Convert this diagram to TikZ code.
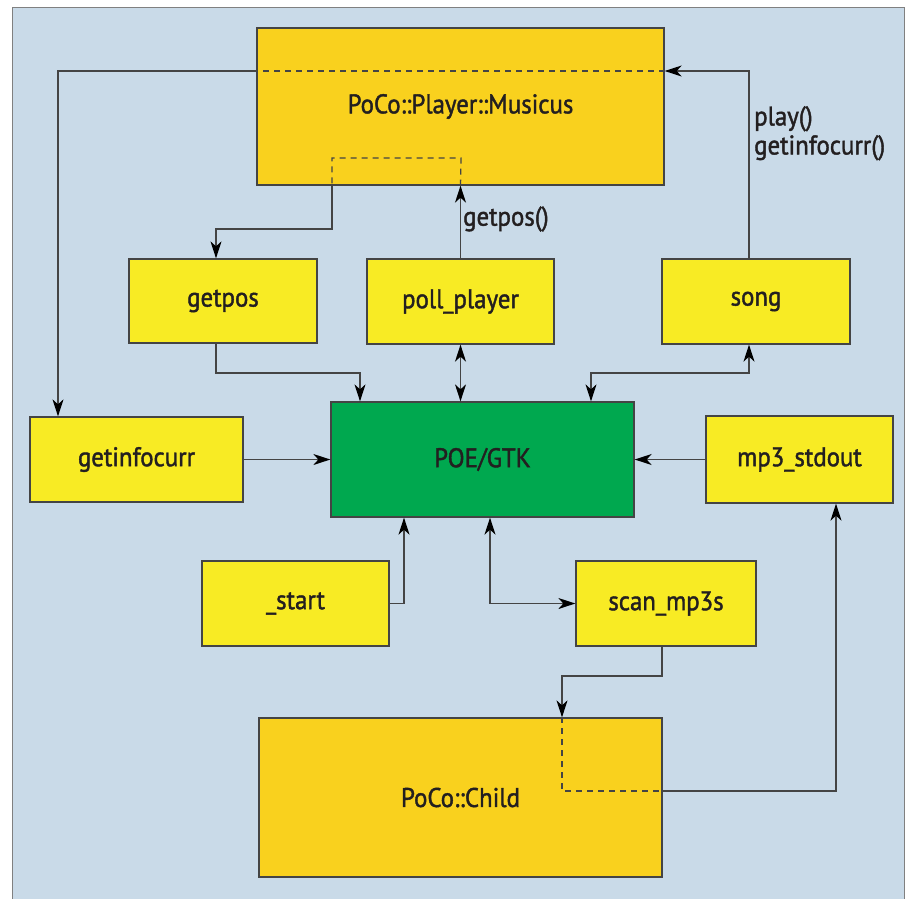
\documentclass[tikz,border=0pt]{standalone}
\usepackage{fontspec}
\setmainfont{PT Sans}
\newfontfamily\diagfont{PT Sans}[FakeStretch=0.92,FakeBold=1.5]
\usetikzlibrary{arrows.meta,calc}
\definecolor{bgblue}{HTML}{C9DAE8}
\definecolor{orangebox}{HTML}{F9D11E}
\definecolor{yellowbox}{HTML}{F8EB24}
\definecolor{greenbox}{HTML}{00A84F}
\definecolor{linegray}{HTML}{444444}
\definecolor{textdark}{HTML}{231F20}
\tikzset{
  box/.style={draw=linegray, line width=1.3pt, inner sep=0pt, text=textdark,
    font=\diagfont\fontsize{27}{30}\selectfont},
  ybox/.style={box, fill=yellowbox},
  obox/.style={box, fill=orangebox},
  gbox/.style={box, fill=greenbox},
  conn/.style={draw=linegray, line width=1.3pt,
    -{Stealth[length=17pt,width=11pt,inset=5pt,black]}},
  biconn/.style={draw=linegray, line width=1.3pt,
    {Stealth[length=17pt,width=11pt,inset=5pt,black]}-{Stealth[length=17pt,width=11pt,inset=5pt,black]}},
  dashline/.style={draw=linegray, line width=1.3pt, dash pattern=on 6pt off 5pt},
  lbl/.style={text=textdark, font=\diagfont\fontsize{27}{29}\selectfont, inner sep=0pt, align=left}
}
\begin{document}
\begin{tikzpicture}[x=1pt,y=-1pt]
\useasboundingbox (0,0) rectangle (907,898);
\fill[white] (0,0) rectangle (907,898);
\fill[bgblue] (12,7) rectangle (904,905);
\draw[gray, line width=1pt] (12,905) -- (12,7) -- (904,7) -- (904,905);

% nodes
\node[obox, minimum width=407pt, minimum height=157pt] (mus) at (460.5,106.5) {PoCo::Player::Musicus};
\node[ybox, minimum width=188pt, minimum height=84pt] (getpos) at (223,301) {getpos};
\node[ybox, minimum width=187pt, minimum height=85pt] (poll) at (460.5,301.5) {poll\_player};
\node[ybox, minimum width=188pt, minimum height=85pt] (song) at (756,301.5) {song};
\node[ybox, minimum width=213pt, minimum height=85pt] (gic) at (136.5,459.5) {getinfocurr};
\node[gbox, minimum width=303pt, minimum height=115pt] (poe) at (482.5,459.5) {POE/GTK};
\node[ybox, minimum width=187pt, minimum height=87pt] (mp3) at (799.5,459.5) {mp3\_stdout};
\node[ybox, minimum width=187pt, minimum height=85pt] (start) at (295.5,603.5) {\_start};
\node[ybox, minimum width=180pt, minimum height=85pt] (scan) at (666,603.5) {scan\_mp3s};
\node[obox, minimum width=403pt, minimum height=159pt] (child) at (460.5,797.5) {PoCo::Child};

% helper coordinates
\coordinate (songtop) at ($(song.north)+(-7,0)$);
\coordinate (musE) at (mus.east |- 0,71);
\coordinate (musW) at (mus.west |- 0,71);
\coordinate (gictop) at (58,0 |- gic.north);

% song -> Musicus -> getinfocurr
\draw[conn] (songtop) |- (musE);
\draw[dashline] (musE) -- (musW);
\draw[conn] (musW) -| (gictop);

% poll_player -> Musicus -> getpos
\coordinate (pollN) at (poll.north);
\coordinate (musS1) at (poll.north |- mus.south);
\coordinate (musS2) at (332,0 |- mus.south);
\draw[conn] (pollN) -- (musS1);
\draw[dashline] (musS1) -- (461,158) -- (332,158) -- (musS2);
\coordinate (getposN) at (216,0 |- getpos.north);
\draw[conn] (musS2) |- (332,229) -| (getposN);
\node[lbl, anchor=west] (lgetpos) at (463,219) {getpos()};
\node[lbl, anchor=north west] (lplay) at (754,106) {play()\\getinfocurr()};

% getpos -> POE
\coordinate (getposS) at (216,0 |- getpos.south);
\coordinate (poeN1) at (360,0 |- poe.north);
\draw[conn] (getposS) |- (poeN1 |- 0,373) -- (poeN1);

% poll <-> POE
\draw[biconn] (poll.south) -- (poll.south |- poe.north);

% song <-> POE
\coordinate (songS) at ($(song.south)+(-7,0)$);
\coordinate (poeN2) at (591,0 |- poe.north);
\draw[biconn] (poeN2) |- (songS |- 0,373) -- (songS);

% getinfocurr -> POE, mp3 -> POE
\draw[conn] (gic.east) -- (gic.east -| poe.west);
\draw[conn] (mp3.west) -- (mp3.west -| poe.east);

% _start -> POE
\coordinate (poeS1) at (404,0 |- poe.south);
\draw[conn] (start.east) -| (poeS1);

% POE <-> scan
\coordinate (poeS2) at (490,0 |- poe.south);
\draw[biconn] (poeS2) |- (scan.west);

% scan -> Child -> mp3
\coordinate (scanS) at (662,0 |- scan.south);
\coordinate (childN) at (562,0 |- child.north);
\draw[conn] (scanS) |- (childN |- 0,676) -- (childN);
\coordinate (childE) at (child.east |- 0,791);
\draw[dashline] (childN) |- (childE);
\coordinate (mp3S) at (836,0 |- mp3.south);
\draw[conn] (childE) -| (mp3S);
\end{tikzpicture}
\end{document}
